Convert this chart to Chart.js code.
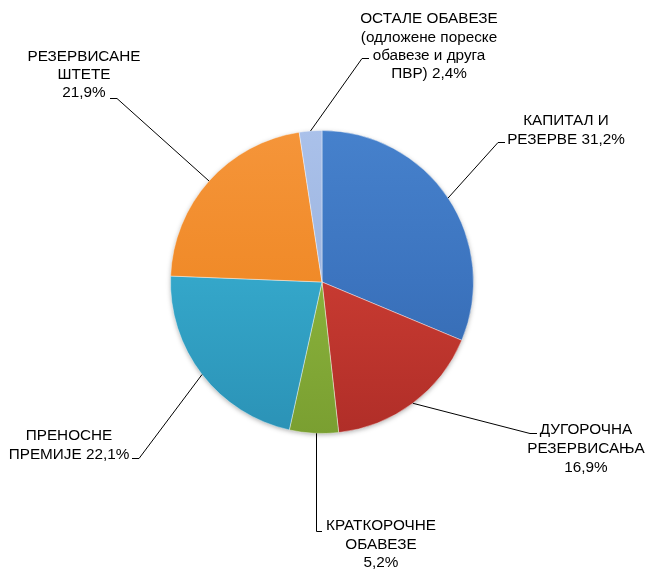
<!DOCTYPE html>
<html>
<head>
<meta charset="utf-8">
<script src="https://cdn.jsdelivr.net/npm/chart.js@4.4.1/dist/chart.umd.min.js"></script>
<style>
  html, body { margin: 0; padding: 0; background: #ffffff; }
  #wrap { width: 647px; height: 570px; }
</style>
</head>
<body>
<div id="wrap"><canvas id="c" width="647" height="570"></canvas></div>
<script>
// Structure of liabilities and capital (share in %)
const categories = [
  "КАПИТАЛ И РЕЗЕРВЕ",
  "ДУГОРОЧНА РЕЗЕРВИСАЊА",
  "КРАТКОРОЧНЕ ОБАВЕЗЕ",
  "ПРЕНОСНЕ ПРЕМИЈЕ",
  "РЕЗЕРВИСАНЕ ШТЕТЕ",
  "ОСТАЛЕ ОБАВЕЗЕ (одложене пореске обавезе и друга ПВР)"
];
const shares = [31.2, 16.9, 5.2, 22.1, 21.9, 2.4];

// Label text, line by line; {v} is replaced with the slice value
const labelLines = [
  ["КАПИТАЛ И", "РЕЗЕРВЕ {v}"],
  ["ДУГОРОЧНА", "РЕЗЕРВИСАЊА", "{v}"],
  ["КРАТКОРОЧНЕ", "ОБАВЕЗЕ", "{v}"],
  ["ПРЕНОСНЕ", "ПРЕМИЈЕ {v}"],
  ["РЕЗЕРВИСАНЕ", "ШТЕТЕ", "{v}"],
  ["ОСТАЛЕ ОБАВЕЗЕ", "(одложене пореске", "обавезе и друга", "ПВР) {v}"]
];

// Slice colours: [light, base, dark]
const sliceColors = [
  ["#4681cc", "#3c74bf", "#3266ab"],
  ["#d2423a", "#c73a31", "#b02e28"],
  ["#94bb45", "#89b13b", "#7a9f31"],
  ["#3cb0d3", "#34a6c9", "#2b92b6"],
  ["#f5953a", "#f08a28", "#e17c1f"],
  ["#aac1ea", "#9db5e0", "#8ca5d2"]
];

const fmt = v => v.toFixed(1).replace(".", ",") + "%";

// Label block placement: text centre x, first line centre y, line step,
// and leader route (elbow point, end of short horizontal tick)
const labelLayout = [
  { cx: 566, y: 121, step: 19, elbow: [498, 142], tick: [505, 142] },
  { cx: 586, y: 430, step: 19, elbow: [530, 433], tick: [537, 433] },
  { cx: 381, y: 526, step: 18.5, elbow: [316, 531], tick: [322, 531], vertical: true },
  { cx: 69,  y: 436, step: 18.5, elbow: [139, 458], tick: [132, 458] },
  { cx: 84,  y: 57,  step: 18, elbow: [117, 98], tick: [110, 98] },
  { cx: 429, y: 19,  step: 18.3, elbow: [362, 58], tick: [369, 58] }
];

function sliceFill(ctx) {
  const chart = ctx.chart;
  const area = chart.chartArea;
  if (!area) return sliceColors[ctx.dataIndex][1];
  const c = sliceColors[ctx.dataIndex];
  const g = chart.ctx.createLinearGradient(0, area.top, 0, area.bottom);
  g.addColorStop(0, c[0]);
  g.addColorStop(0.5, c[1]);
  g.addColorStop(1, c[2]);
  return g;
}

// Soft outer shadow beneath the pie
const pieShadow = {
  id: "pieShadow",
  beforeDatasetsDraw(chart) {
    const arc = chart.getDatasetMeta(0).data[0];
    if (!arc) return;
    const { x, y, outerRadius } = arc.getProps(["x", "y", "outerRadius"], true);
    const ctx = chart.ctx;
    ctx.save();
    ctx.shadowColor = "rgba(0,0,0,0.35)";
    ctx.shadowBlur = 5;
    ctx.shadowOffsetY = 1.5;
    ctx.fillStyle = "#ffffff";
    ctx.beginPath();
    ctx.arc(x, y, outerRadius - 0.5, 0, Math.PI * 2);
    ctx.fill();
    ctx.restore();
  }
};

// Leader lines and multi-line labels
const leaderLabels = {
  id: "leaderLabels",
  afterDatasetsDraw(chart) {
    const ctx = chart.ctx;
    const meta = chart.getDatasetMeta(0);
    ctx.save();
    meta.data.forEach((arc, i) => {
      const p = arc.getProps(["x", "y", "startAngle", "endAngle", "outerRadius"], true);
      const mid = (p.startAngle + p.endAngle) / 2;
      const sx = p.x + Math.cos(mid) * p.outerRadius;
      const sy = p.y + Math.sin(mid) * p.outerRadius;
      const L = labelLayout[i];
      ctx.strokeStyle = "#000000";
      ctx.lineWidth = 1;
      ctx.beginPath();
      if (L.vertical) {
        ctx.moveTo(Math.round(L.elbow[0]) + 0.5, sy);
        ctx.lineTo(Math.round(L.elbow[0]) + 0.5, L.elbow[1] + 0.5);
      } else {
        ctx.moveTo(sx, sy);
        ctx.lineTo(L.elbow[0], L.elbow[1] + 0.5);
      }
      ctx.lineTo(L.tick[0], L.tick[1] + 0.5);
      ctx.stroke();

      ctx.fillStyle = "#000000";
      ctx.font = "15.3px 'Liberation Sans', Arial, sans-serif";
      ctx.textAlign = "center";
      ctx.textBaseline = "middle";
      labelLines[i].forEach((line, k) => {
        const txt = line.replace("{v}", fmt(shares[i]));
        ctx.fillText(txt, L.cx, L.y + k * L.step);
      });
    });
    ctx.restore();
  }
};

new Chart(document.getElementById("c"), {
  type: "pie",
  data: {
    labels: categories,
    datasets: [{
      data: shares,
      backgroundColor: sliceFill,
      borderColor: "rgba(255,255,255,0.4)",
      borderWidth: 1
    }]
  },
  options: {
    responsive: false,
    animation: false,
    layout: { padding: { left: 170, right: 173, top: 130, bottom: 136 } },
    plugins: {
      legend: { display: false },
      tooltip: { enabled: false }
    }
  },
  plugins: [pieShadow, leaderLabels]
});
</script>
</body>
</html>
